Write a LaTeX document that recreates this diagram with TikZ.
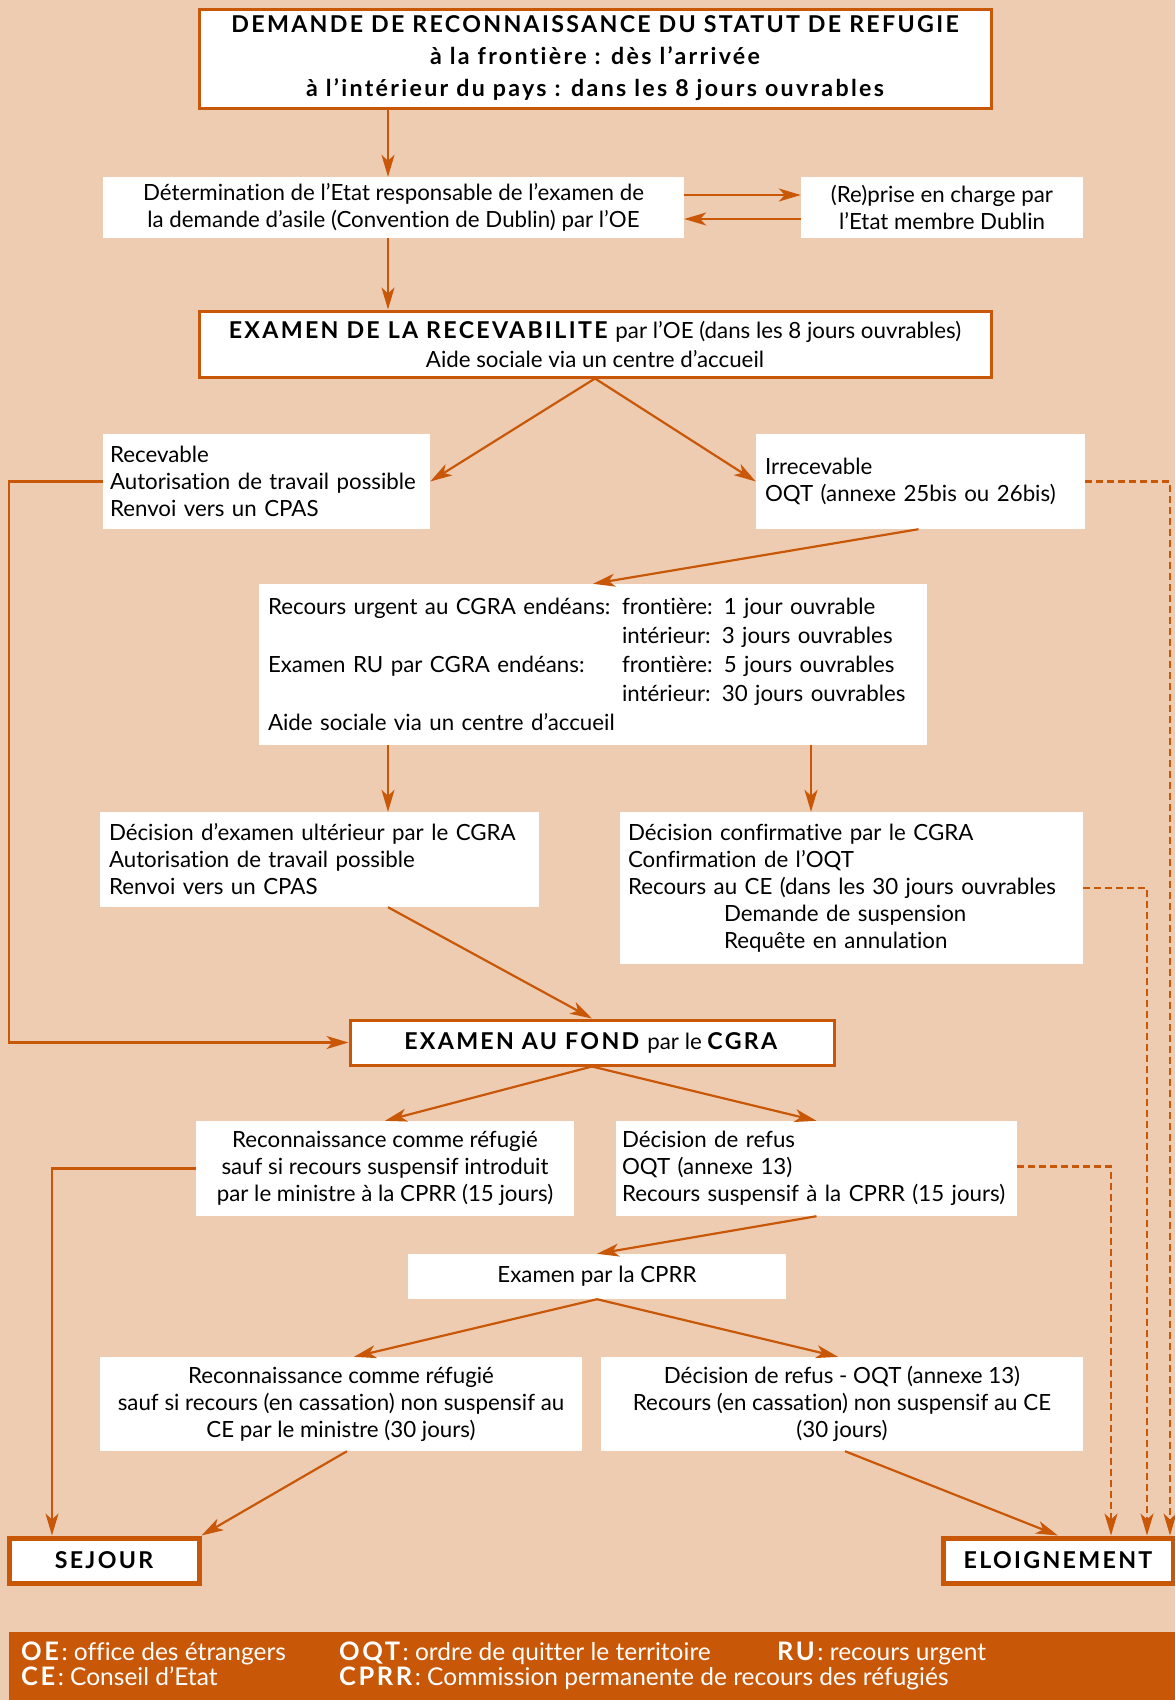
\documentclass[tikz,border=0pt]{standalone}
\usepackage{fontspec}
\setmainfont{Lato}[Ligatures=NoCommon,BoldFeatures={LetterSpace=10,Scale=1.04}]
\usepackage{xcolor}
\usetikzlibrary{arrows.meta,calc}
\definecolor{peau}{RGB}{238,204,178}
\definecolor{brique}{RGB}{200,88,8}

\begin{document}
\begin{tikzpicture}[x=1pt,y=-1pt,
    >={Stealth[length=22pt,width=13pt,inset=6pt]},
    fleche/.style={->,draw=brique,line width=2.2pt},
    tirets/.style={fleche,dash pattern=on 7pt off 4pt},
    boite/.style={fill=white,inner sep=0pt,align=center,font=\fontsize{22.3}{27}\selectfont},
    cadre/.style={boite,draw=brique,line width=3pt},
    gauche/.style={boite,align=left,inner xsep=9pt},
    issue/.style={boite,draw=brique,line width=5pt,font=\fontsize{22.3}{27}\selectfont\bfseries},
    legende/.style={anchor=base west,inner sep=0pt,text=white,font=\fontsize{24.5}{28}\selectfont}]
  \useasboundingbox[fill=peau] (0,0) rectangle (1175,1700);

  % colonnes des fleches
  \coordinate (xg) at (388,0);
  \coordinate (xd) at (811,0);
  \coordinate (xb) at (9,0);
  \coordinate (xs) at (52,0);
  \coordinate (xt1) at (1111,0);
  \coordinate (xt2) at (1147,0);
  \coordinate (xt3) at (1170,0);

  \node[cadre,minimum width=792pt,minimum height=99pt,font=\fontsize{22.3}{32}\selectfont\bfseries] (demande) at (595,58.5)
    {DEMANDE DE RECONNAISSANCE DU STATUT DE REFUGIE\\à la frontière : dès l’arrivée\\à l’intérieur du pays : dans les 8 jours ouvrables};
  \node[boite,minimum width=581pt,minimum height=61pt] (dublin) at (393.5,207.5)
    {Détermination de l’Etat responsable de l’examen de\\la demande d’asile (Convention de Dublin) par l’OE};
  \node[boite,minimum width=282pt,minimum height=61pt] (reprise) at (942,207.5)
    {(Re)prise en charge par\\l’Etat membre Dublin};
  \node[cadre,minimum width=792pt,minimum height=66pt,font=\fontsize{22.3}{29}\selectfont] (recev) at (595,344)
    {\textbf{EXAMEN DE LA RECEVABILITE} par l’OE (dans les 8 jours ouvrables)\\Aide sociale via un centre d’accueil};

  \node[gauche,inner xsep=7pt,text width=313pt,minimum height=95pt] (recevable) at (266.5,481.5)
    {Recevable\\Autorisation de travail possible\\Renvoi vers un CPAS};
  \node[gauche,text width=311pt,minimum height=95pt] (irrecevable) at (920.5,481.5)
    {Irrecevable\\OQT (annexe 25bis ou 26bis)};
  \node[gauche,text width=650pt,minimum height=161pt,font=\fontsize{22.3}{29}\selectfont] (urgent) at (593,664.5)
    {\makebox[354pt][l]{Recours urgent au CGRA endéans:}frontière: 1 jour ouvrable\\
     \hspace*{354pt}intérieur: 3 jours ouvrables\\
     \makebox[354pt][l]{Examen RU par CGRA endéans:}frontière: 5 jours ouvrables\\
     \hspace*{354pt}intérieur: 30 jours ouvrables\\
     Aide sociale via un centre d’accueil};
  \node[gauche,text width=421pt,minimum height=95pt] (ulterieur) at (319.5,859.5)
    {Décision d’examen ultérieur par le CGRA\\Autorisation de travail possible\\Renvoi vers un CPAS};
  \node[gauche,inner xsep=8pt,text width=447pt,minimum height=152pt] (confirm) at (851.5,888)
    {Décision confirmative par le CGRA\\Confirmation de l’OQT\\Recours au CE (dans les 30 jours ouvrables\\
     \hspace*{96pt}Demande de suspension\\\hspace*{96pt}Requête en annulation};

  \node[cadre,minimum width=484pt,minimum height=45pt] (fond) at (592,1042.5)
    {\textbf{EXAMEN AU FOND} par le \textbf{CGRA}};
  \node[boite,minimum width=378pt,minimum height=95pt] (reco1) at (385,1168.5)
    {Reconnaissance comme réfugié\\sauf si recours suspensif introduit\\par le ministre à la CPRR (15 jours)};
  \node[gauche,inner xsep=6pt,text width=389pt,minimum height=95pt] (refus1) at (816.5,1168.5)
    {Décision de refus\\OQT (annexe 13)\\Recours suspensif à la CPRR (15 jours)};
  \node[boite,minimum width=378pt,minimum height=45pt] (examcprr) at (597,1276.5)
    {Examen par la CPRR};
  \node[boite,minimum width=482pt,minimum height=94pt] (reco2) at (341,1404)
    {Reconnaissance comme réfugié\\sauf si recours (en cassation) non suspensif au\\CE par le ministre (30 jours)};
  \node[boite,minimum width=482pt,minimum height=94pt] (refus2) at (842,1404)
    {Décision de refus - OQT (annexe 13)\\Recours (en cassation) non suspensif au CE\\(30 jours)};
  \node[issue,minimum width=190pt,minimum height=45pt] (sejour) at (104,1560.5) {SEJOUR};
  \node[issue,minimum width=230pt,minimum height=45pt] (eloign) at (1058,1560.5) {ELOIGNEMENT};

  \draw[fleche] (demande.south -| xg) -- (dublin.north -| xg);
  \draw[fleche] ([yshift=12.5pt]dublin.east) -- ([yshift=12.5pt]reprise.west);
  \draw[fleche] ([yshift=-11.5pt]reprise.west) -- ([yshift=-11.5pt]dublin.east);
  \draw[fleche] (dublin.south -| xg) -- (recev.north -| xg);
  \draw[fleche] (recev.south) -- (recevable.east);
  \draw[fleche] (recev.south) -- (irrecevable.west);
  \draw[fleche] ([xshift=-2pt]irrecevable.south) -- (urgent.north);
  \draw[fleche] (urgent.south -| xg) -- (ulterieur.north -| xg);
  \draw[fleche] (urgent.south -| xd) -- (confirm.north -| xd);
  \draw[fleche] (ulterieur.south -| xg) -- (fond.north);
  \draw[fleche] (recevable.west) -| (xb |- fond.west) -- (fond.west);
  \draw[fleche] (fond.south) -- (reco1.north);
  \draw[fleche] (fond.south) -- (refus1.north);
  \draw[fleche] (reco1.west) -| (sejour.north -| xs);
  \draw[fleche] (refus1.south) -- (examcprr.north);
  \draw[fleche] (examcprr.south) -- ([xshift=13pt]reco2.north);
  \draw[fleche] (examcprr.south) -- ([xshift=-4pt]refus2.north);
  \draw[fleche] ([xshift=6pt]reco2.south) -- (sejour.north east);
  \draw[fleche] ([xshift=3pt]refus2.south) -- (eloign.north);
  % renvois vers l'eloignement
  \draw[tirets] (irrecevable.east) -| (eloign.north -| xt3);
  \draw[tirets] (confirm.east) -| (eloign.north -| xt2);
  \draw[tirets] ([yshift=2pt]refus1.east) -| (eloign.north -| xt1);

  % legende
  \fill[brique] (9,1632) rectangle (1175,1700);
  \node[legende] (lgOE) at (21,1660) {\textbf{OE}: office des étrangers};
  \node[legende] (lgOQT) at (339,1660) {\textbf{OQT}: ordre de quitter le territoire};
  \node[legende] (lgRU) at (777,1660) {\textbf{RU}: recours urgent};
  \node[legende] (lgCE) at (21,1685) {\textbf{CE}: Conseil d’Etat};
  \node[legende] (lgCPRR) at (339,1685) {\textbf{CPRR}: Commission permanente de recours des réfugiés};
\end{tikzpicture}
\end{document}
